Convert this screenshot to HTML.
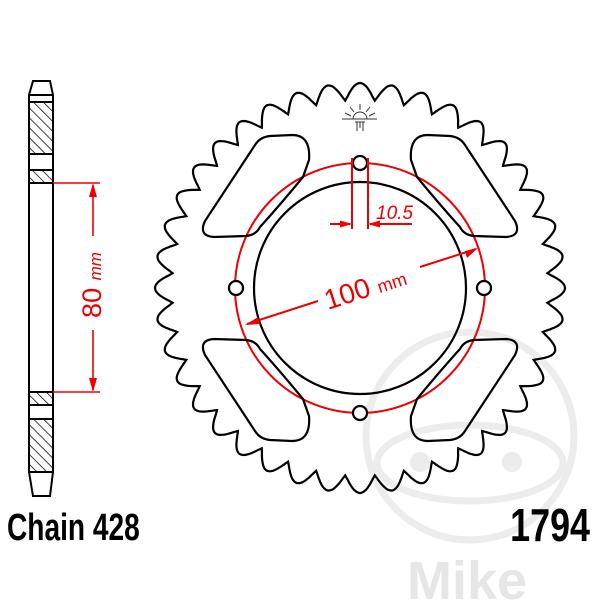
<!DOCTYPE html>
<html><head><meta charset="utf-8"><style>
html,body{margin:0;padding:0;background:#fff;width:600px;height:600px;overflow:hidden}
svg{display:block}
</style></head><body>
<svg id="s" width="600" height="600" viewBox="0 0 600 600" xmlns="http://www.w3.org/2000/svg">
<defs>
<pattern id="h" width="7" height="7" patternUnits="userSpaceOnUse" patternTransform="rotate(-45)">
<rect width="7" height="7" fill="#fff"/><line x1="0" y1="0" x2="0" y2="7" stroke="#000" stroke-width="1.5"/>
</pattern>
</defs>
<g fill="none" stroke="#ececec" stroke-width="7">
<circle cx="470" cy="436" r="104"/>
<ellipse cx="470" cy="463" rx="93" ry="38"/>
</g>
<circle cx="420" cy="462" r="10" fill="#ececec"/>
<circle cx="512" cy="462" r="10" fill="#ececec"/>
<text x="467" y="599" font-family="Liberation Sans, sans-serif" font-weight="bold" font-size="54" fill="#e6e6e6" text-anchor="middle">Mike</text>

<g stroke="#000" stroke-width="2" fill="none">
<path d="M33,81 L50,81 L53,95 L53,472 L50,496 L33,496 L29,472 L29,95 Z" fill="#fff"/>
<rect x="29" y="102" width="24" height="52" fill="url(#h)"/>
<rect x="29" y="170" width="24" height="13" fill="url(#h)"/>
<rect x="29" y="392" width="24" height="13" fill="url(#h)"/>
<rect x="29" y="419" width="24" height="53" fill="url(#h)"/>
<line x1="29" y1="95" x2="53" y2="95"/><line x1="29" y1="472" x2="53" y2="472"/>
</g>
<g stroke="#e00" stroke-width="1.6" fill="none">
<line x1="53" y1="183" x2="100" y2="183"/><line x1="53" y1="392" x2="100" y2="392"/>
<line x1="93" y1="185" x2="93" y2="236"/><line x1="93" y1="330" x2="93" y2="390"/>
</g>
<path d="M93,183 L89,197 L97,197Z M93,392 L89,378 L97,378Z" fill="#e00"/>
<text transform="translate(101,285) rotate(-90)" text-anchor="middle" font-family="Liberation Sans, sans-serif" font-size="27" fill="#e00">80 <tspan font-size="17" font-style="italic">mm</tspan></text>

<circle cx="360" cy="288" r="125" fill="none" stroke="#e00" stroke-width="2"/>
<path id="teeth" fill="none" stroke="#000" stroke-width="2.2"/>
<circle cx="360" cy="288" r="106" fill="none" stroke="#000" stroke-width="2.2"/>
<g transform="translate(360,288)" stroke="#000" stroke-width="2.2" fill="none">
<path id="w" d="M57,111 L51,128 Q49,153 68,153 L90,152 Q100,151 105,143 L155,67 Q162,52 146,51 L114,52 Q104,53 100,61 Q80,83 57,111 Z"/>
<use href="#w" transform="scale(-1,1)"/>
<use href="#w" transform="scale(1,-1)"/>
<use href="#w" transform="scale(-1,-1)"/>
<circle cx="0" cy="-125" r="7" fill="#fff"/><circle cx="0" cy="125" r="7" fill="#fff"/>
<circle cx="-124" cy="0" r="7" fill="#fff"/><circle cx="124" cy="0" r="7" fill="#fff"/>
</g>
<g stroke="#e00" stroke-width="2" fill="none">
<line x1="352" y1="158" x2="352" y2="229"/><line x1="368" y1="158" x2="368" y2="229"/>
<line x1="330" y1="224" x2="350" y2="224"/><line x1="370" y1="224" x2="412" y2="224"/>
<line x1="247" y1="324" x2="318" y2="301"/><line x1="420" y1="267" x2="476" y2="249"/>
</g>
<path d="M352,224 L340,220.5 L340,227.5Z M368,224 L380,220.5 L380,227.5Z" fill="#e00"/>
<path d="M245,325 L258,317 L260,324Z M478,248 L465,251 L467,258Z" fill="#e00"/>
<text x="376" y="219" font-family="Liberation Sans, sans-serif" font-style="italic" font-size="19" fill="#e00">10.5</text>
<text transform="translate(368,297) rotate(-18)" text-anchor="middle" font-family="Liberation Sans, sans-serif" font-size="28" fill="#e00">100 <tspan font-size="18">mm</tspan></text>

<g stroke="#333" stroke-width="1" fill="none">
<path d="M353,119 A7 7 0 0 1 367,119"/>
<line x1="342" y1="119" x2="377" y2="119"/>
<line x1="360" y1="110" x2="360" y2="104"/><line x1="354" y1="112" x2="350" y2="107"/><line x1="366" y1="112" x2="370" y2="107"/>
<line x1="351" y1="116" x2="345" y2="113"/><line x1="369" y1="116" x2="375" y2="113"/>
<path d="M355,122 L365,122 M357,122 L357,131 M363,122 L363,131 M360,122 L360,128"/>
</g>

<text transform="translate(7,540) scale(0.74,1)" font-family="Liberation Sans, sans-serif" font-weight="bold" font-size="38" fill="#000">Chain 428</text>
<text transform="translate(590,541) scale(0.78,1)" text-anchor="end" font-family="Liberation Sans, sans-serif" font-weight="bold" font-size="46" fill="#000">1794</text>
</svg>
<script>
(function(){
var cx=360,cy=288,N=40,Rt=205,Rr=188,pts=[],M=N*24;
for(var i=0;i<=M;i++){
 var t=i/M, a=-Math.PI/2+t*2*Math.PI, p=(t*N)%1;
 var f=0.5+0.5*Math.cos(2*Math.PI*p);
 f=Math.pow(f,0.55);
 var r=Rr+(Rt-Rr)*f;
 pts.push((cx+r*Math.cos(a)).toFixed(1)+","+(cy+r*Math.sin(a)).toFixed(1));
}
document.getElementById("teeth").setAttribute("d","M"+pts.join(" L")+"Z");
})();
</script>
</body></html>
